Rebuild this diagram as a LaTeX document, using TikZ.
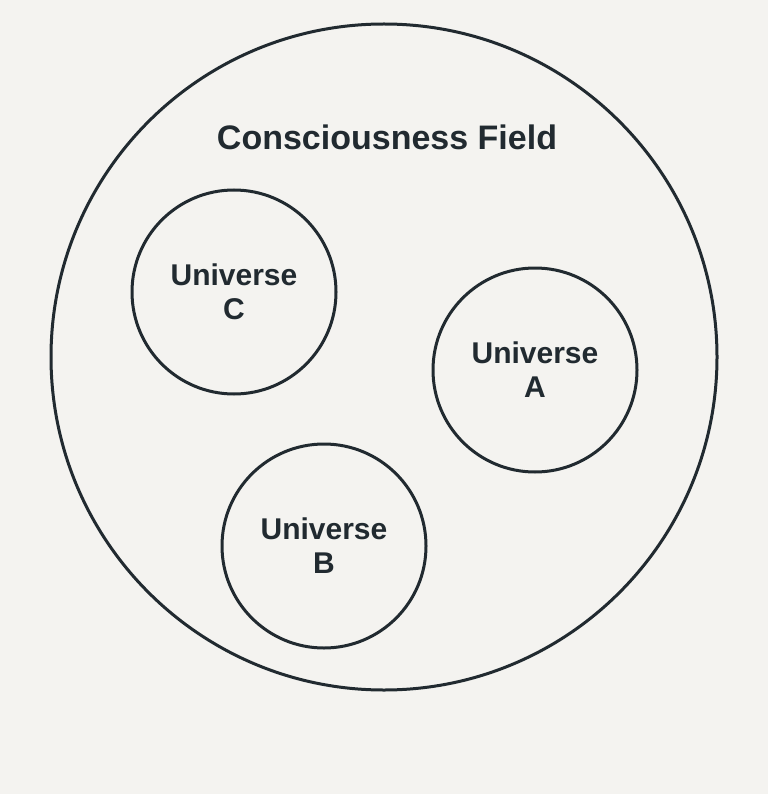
\documentclass[tikz,border=0pt]{standalone}
\usepackage{fontspec}
\setmainfont{Liberation Sans}
\definecolor{inkdark}{RGB}{33, 42, 48}
\definecolor{paper}{RGB}{244, 243, 240}
\begin{document}
\begin{tikzpicture}[x=1pt,y=-1pt,
    universe/.style={draw=inkdark,line width=3pt,circle,minimum size=204pt,inner sep=0pt,
      align=center,text=inkdark,font=\bfseries\fontsize{30}{34}\selectfont}]
  % Background
  \fill[paper] (0,0) rectangle (768,794);
  \useasboundingbox (0,0) rectangle (768,794);

  % Consciousness field
  \node[draw=inkdark,line width=3pt,circle,minimum size=666pt,inner sep=0pt] (field) at (384,357) {};
  \node[text=inkdark,font=\bfseries\fontsize{34}{38}\selectfont] (title) at (387,137) {Consciousness Field};

  % Universes
  \node[universe] (univC) at (234,292) {Universe\\C};
  \node[universe] (univA) at (535,370) {Universe\\A};
  \node[universe] (univB) at (324,546) {Universe\\B};
\end{tikzpicture}
\end{document}
